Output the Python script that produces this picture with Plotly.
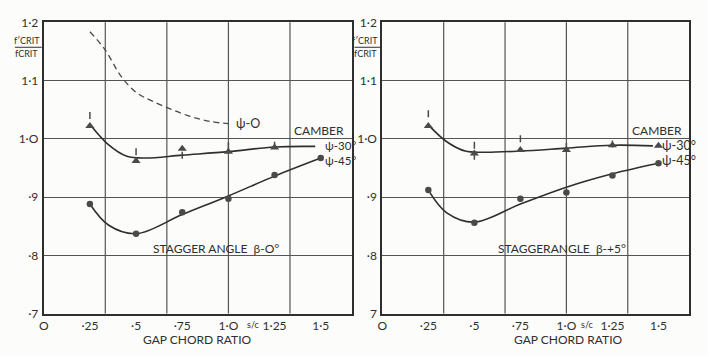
import plotly.graph_objects as go

# Gap/chord ratio s/c at which the cascades were tested
gap_chord = [0.25, 0.5, 0.75, 1.0, 1.25, 1.5]

# Stagger angle beta = 0 deg
b0_psi45_pts = [0.888, 0.837, 0.874, 0.897, 0.938, 0.967]
b0_psi30_tri = [1.022, 0.962, 0.983, 0.978, 0.985]
b0_psi30_aux = [1.040, 0.978, 0.972, 0.988, 0.989]
b0_psi30_curve_x = [0.25, 0.35, 0.45, 0.55, 0.75, 1.0, 1.25, 1.47]
b0_psi30_curve_y = [1.025, 0.99, 0.97, 0.967, 0.972, 0.978, 0.986, 0.987]
b0_psi45_curve_x = [0.25, 0.35, 0.5, 0.75, 1.0, 1.25, 1.5]
b0_psi45_curve_y = [0.888, 0.852, 0.837, 0.870, 0.902, 0.936, 0.967]
b0_psi0_x = [0.25, 0.33, 0.42, 0.5, 0.6, 0.78, 0.9, 1.0]
b0_psi0_y = [1.184, 1.154, 1.107, 1.08, 1.063, 1.04, 1.03, 1.026]

# Stagger angle beta = +5 deg
b5_psi45_pts = [0.912, 0.856, 0.897, 0.908, 0.937, 0.958]
b5_psi30_tri = [1.022, 0.975, 0.981, 0.981, 0.989, 0.988]
b5_psi30_aux_x = [0.25, 0.5, 0.5, 0.75, 1.0, 1.25]
b5_psi30_aux_y = [1.043, 0.989, 0.970, 1.0, 0.987, 0.991]
b5_psi30_curve_x = [0.25, 0.35, 0.45, 0.55, 0.75, 1.0, 1.25, 1.47]
b5_psi30_curve_y = [1.024, 0.995, 0.979, 0.977, 0.979, 0.984, 0.989, 0.988]
b5_psi45_curve_x = [0.25, 0.35, 0.5, 0.75, 1.0, 1.25, 1.5]
b5_psi45_curve_y = [0.912, 0.873, 0.857, 0.888, 0.917, 0.940, 0.958]

x_tickvals = [0, 0.25, 0.5, 0.75, 1.0, 1.25, 1.5]
x_ticktext = ["O", "·25", "·5", "·75", "1·O", "1·25", "1·5"]
x_gridvals = [1 / 3, 2 / 3, 1.0, 4 / 3]
y_tickvals = [0.7, 0.8, 0.9, 1.0, 1.1, 1.2]
y_ticktext_left = ["·7", "·8", "·9", "1·O", "1·1", "1·2"]
y_ticktext_right = ["7", "·8", "·9", "1·O", "1·1", "1·2"]

INK = "#2f2f2f"
GRID = "#555555"
MARK = "#4a4a4a"
FONT = "Lato"

fig = go.Figure()


def add_panel(xa, ya, tri_x, tri_y, aux_x, aux_y, c30x, c30y, c45x, c45y, pts45):
    fig.add_trace(go.Scatter(x=c30x, y=c30y, mode="lines", line=dict(color=INK, width=1.6, shape="spline", smoothing=1.0),
                             xaxis=xa, yaxis=ya, hoverinfo="skip"))
    fig.add_trace(go.Scatter(x=c45x, y=c45y, mode="lines", line=dict(color=INK, width=1.6, shape="spline", smoothing=1.0),
                             xaxis=xa, yaxis=ya, hoverinfo="skip"))
    fig.add_trace(go.Scatter(x=tri_x, y=tri_y, mode="markers",
                             marker=dict(symbol="triangle-up", size=8, color=MARK),
                             xaxis=xa, yaxis=ya))
    fig.add_trace(go.Scatter(x=aux_x, y=aux_y, mode="markers",
                             marker=dict(symbol="line-ns", size=5, line=dict(color=MARK, width=1.5)),
                             xaxis=xa, yaxis=ya))
    fig.add_trace(go.Scatter(x=gap_chord, y=pts45, mode="markers",
                             marker=dict(symbol="circle", size=6.5, color=MARK),
                             xaxis=xa, yaxis=ya))


add_panel("x", "y", gap_chord[:5], b0_psi30_tri, gap_chord[:5], b0_psi30_aux,
          b0_psi30_curve_x, b0_psi30_curve_y, b0_psi45_curve_x, b0_psi45_curve_y, b0_psi45_pts)
fig.add_trace(go.Scatter(x=b0_psi0_x, y=b0_psi0_y, mode="lines",
                         line=dict(color="#4a4a4a", width=1.3, dash="6px,4px", shape="spline"),
                         xaxis="x", yaxis="y", hoverinfo="skip"))
add_panel("x2", "y2", gap_chord, b5_psi30_tri, b5_psi30_aux_x, b5_psi30_aux_y,
          b5_psi30_curve_x, b5_psi30_curve_y, b5_psi45_curve_x, b5_psi45_curve_y, b5_psi45_pts)

xaxis_common = dict(range=[0, 5 / 3], tickvals=x_tickvals, ticktext=x_ticktext, showgrid=False,
                    ticks="", zeroline=False, showline=True, mirror=True, linecolor=INK, linewidth=2,
                    tickfont=dict(family=FONT, size=12, color=INK))
yaxis_common = dict(range=[0.7, 1.2], tickvals=y_tickvals, showgrid=True, gridcolor=GRID, gridwidth=1.2,
                    ticks="", zeroline=False, showline=True, mirror=True, linecolor=INK, linewidth=2,
                    tickfont=dict(family=FONT, size=12, color=INK), ticklabelstandoff=1)

fig.update_layout(
    width=708, height=356, margin=dict(l=0, r=0, t=0, b=0),
    paper_bgcolor="#fcfcfa", plot_bgcolor="#fcfcfa", showlegend=False,
    xaxis=dict(domain=[39 / 708, 349 / 708], anchor="y", **xaxis_common),
    yaxis=dict(domain=[1 - 319 / 356, 1 - 15 / 356], anchor="x", ticktext=y_ticktext_left, **yaxis_common),
    xaxis2=dict(domain=[380 / 708, 689 / 708], anchor="y2", **xaxis_common),
    yaxis2=dict(domain=[1 - 319 / 356, 1 - 15 / 356], anchor="x2", ticktext=y_ticktext_right, **yaxis_common),
)

# vertical grid at thirds of the s/c range (labels sit at quarters)
for xr, yr in [("x", "y domain"), ("x2", "y2 domain")]:
    for gx in x_gridvals:
        fig.add_shape(type="line", xref=xr, yref=yr, x0=gx, x1=gx, y0=0, y1=1,
                      line=dict(color=GRID, width=1.2), layer="below")

txt = dict(family=FONT, size=12, color=INK)
small = dict(family=FONT, size=9, color=INK)
ann = []
for xr, yr, stagger, xs, sc_x, gap_x, lab_size in [("x", "y", "STAGGER ANGLE  β-O°", 0.935, 1.134, 0.83, 11.5),
                                                   ("x2", "y2", "STAGGERANGLE  β-+5°", 0.976, 1.117, 1.01, 12.5)]:
    lab = dict(family=FONT, size=lab_size, color=INK)
    ann += [
        dict(x=1.49, y=1.014, xref=xr, yref=yr, text="CAMBER", showarrow=False, font=txt),
        dict(x=1.5, y=0.989, xref=xr, yref=yr, xshift=2, text="ψ-30°", showarrow=False, xanchor="left", font=lab),
        dict(x=1.5, y=0.962, xref=xr, yref=yr, xshift=2, text="ψ-45°", showarrow=False, xanchor="left", font=lab),
        dict(x=xs, y=0.812, xref=xr, yref=yr, text=stagger, showarrow=False, font=txt),
        dict(x=sc_x, y=0.7, xref=xr, yref=yr, yshift=-11, text="s/c", showarrow=False, font=small),
        dict(x=gap_x, y=0.7, xref=xr, yref=yr, yshift=-26, text="GAP CHORD RATIO", showarrow=False, font=txt),
        dict(x=0, y=1.2, xref=xr, yref=yr, xshift=-17, yshift=-18, text="f′CRIT", showarrow=False, font=small),
        dict(x=0, y=1.2, xref=xr, yref=yr, xshift=-17, yshift=-31, text="fCRIT", showarrow=False, font=small),
    ]
ann.append(dict(x=1.03, y=1.027, xref="x", yref="y", text="ψ-O", showarrow=False, xanchor="left",
                font=dict(family=FONT, size=12.5, color=INK)))
fig.update_layout(annotations=ann)

# fraction bars of the y-axis quantity
for x0, x1 in [(10 / 708, 37 / 708), (352 / 708, 378 / 708)]:
    fig.add_shape(type="line", xref="paper", yref="paper", x0=x0, x1=x1,
                  y0=1 - 41 / 356, y1=1 - 41 / 356, line=dict(color=INK, width=1))

fig.write_html("out.html")
